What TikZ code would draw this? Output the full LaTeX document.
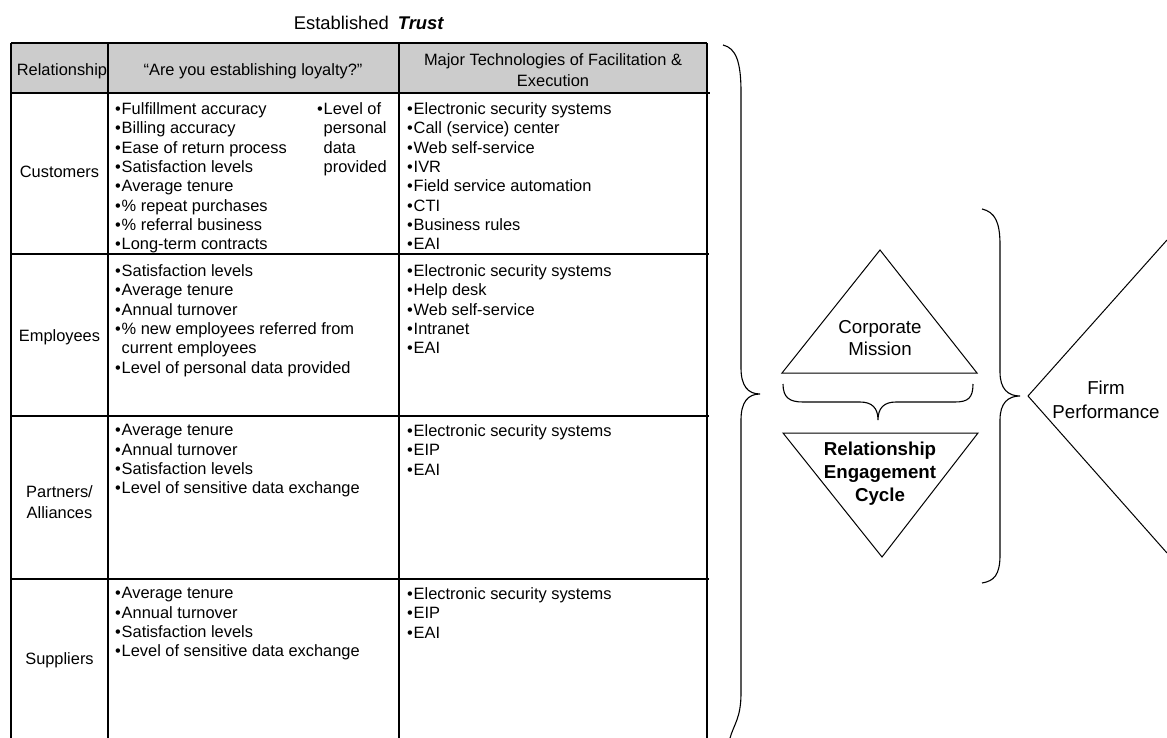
\documentclass[tikz,border=0pt]{standalone}
\usepackage{fontspec}
\setmainfont{Liberation Sans}
\definecolor{headgray}{RGB}{204,204,204}
\tikzset{
  cell/.style={anchor=north west, inner sep=0pt, align=left, font=\fontsize{16.4}{19.3}\selectfont},
  rowlabel/.style={inner sep=0pt, align=center, font=\fontsize{16.4}{20.5}\selectfont},
  headtext/.style={inner sep=0pt, align=center, font=\fontsize{16.4}{21}\selectfont},
  bigtext/.style={inner sep=0pt, align=center, font=\fontsize{18.7}{22}\selectfont},
  grid/.style={line width=1.3pt, black},
  bracestyle/.style={line width=1.1pt, black},
  tri/.style={line width=1pt, black},
}
\newcommand{\bul}{•\kern0.8pt}
\newcommand{\ind}{\hphantom{•\kern0.8pt}}
\begin{document}
\begin{tikzpicture}[x=1pt,y=-1pt]
\useasboundingbox (0,0) rectangle (1167,738);
% title
\node[inner sep=0pt, font=\fontsize{18.4}{22}\selectfont] (title) at (369,23) {Established\hspace{9pt}\textbf{\itshape Trust}};
% header fill
\fill[headgray] (11,43) rectangle (707,93);
% table grid
\draw[grid] (11,43) -- (707,43);
\draw[grid] (11,93) -- (710,93);
\draw[grid] (11,254) -- (709,254);
\draw[grid] (11,416) -- (709,416);
\draw[grid] (11,579) -- (709,579);
\draw[grid] (11,43) -- (11,738);
\draw[grid] (108,43) -- (108,738);
\draw[grid] (399,43) -- (399,738);
\draw[grid] (707,43) -- (707,738);
% header texts
\node[headtext] (h1) at (62,71) {Relationship};
\node[headtext] (h2) at (253,71) {“Are you establishing loyalty?”};
\node[headtext] (h3) at (553,70) {Major Technologies of Facilitation \&\\Execution};
% row labels
\node[rowlabel] (r1) at (59.5,172) {Customers};
\node[rowlabel] (r2) at (59.5,337) {Employees};
\node[rowlabel] (r3) at (59.5,502) {Partners/\\Alliances};
\node[rowlabel] (r4) at (59.5,660) {Suppliers};
% customers
\node[cell] (c1a) at (115,102.5) {\bul Fulfillment accuracy\\\bul Billing accuracy\\\bul Ease of return process\\\bul Satisfaction levels\\\bul Average tenure\\\bul \% repeat purchases\\\bul \% referral business\\\bul Long-term contracts};
\node[cell] (c1b) at (317,102.5) {\bul Level of\\\ind personal\\\ind data\\\ind provided};
\node[cell] (c1c) at (407,102.5) {\bul Electronic security systems\\\bul Call (service) center\\\bul Web self-service\\\bul IVR\\\bul Field service automation\\\bul CTI\\\bul Business rules\\\bul EAI};
% employees
\node[cell] (c2a) at (115,264.5) {\bul Satisfaction levels\\\bul Average tenure\\\bul Annual turnover\\\bul \% new employees referred from\\\ind current employees\\\bul Level of personal data provided};
\node[cell] (c2c) at (407,264.5) {\bul Electronic security systems\\\bul Help desk\\\bul Web self-service\\\bul Intranet\\\bul EAI};
% partners
\node[cell] (c3a) at (115,424.5) {\bul Average tenure\\\bul Annual turnover\\\bul Satisfaction levels\\\bul Level of sensitive data exchange};
\node[cell] (c3c) at (407,424.5) {\bul Electronic security systems\\\bul EIP\\\bul EAI};
% suppliers
\node[cell] (c4a) at (115,587.5) {\bul Average tenure\\\bul Annual turnover\\\bul Satisfaction levels\\\bul Level of sensitive data exchange};
\node[cell] (c4c) at (407,587.5) {\bul Electronic security systems\\\bul EIP\\\bul EAI};
% big brace
\draw[bracestyle] (723,45) .. controls (736,48) and (741,62) .. (741,92) -- (741,368)
  .. controls (741,386) and (748,394) .. (760,394)
  .. controls (748,394) and (741,402) .. (741,420) -- (741,693)
  .. controls (741,718) and (734,724) .. (730,738);
% triangles
\draw[tri] (880,250) -- (977,373) -- (782,373) -- cycle;
\node[bigtext] (mission) at (880,338) {Corporate\\Mission};
\draw[bracestyle] (783,384) .. controls (783,398) and (790,402) .. (803,402) -- (860,402)
  .. controls (872,402) and (878,408) .. (878,420)
  .. controls (878,408) and (884,402) .. (896,402) -- (955,402)
  .. controls (968,402) and (973,398) .. (973,384);
\draw[tri] (783,433) -- (978,433) -- (882,557) -- cycle;
\node[bigtext, font=\fontsize{18.7}{23}\selectfont\bfseries] (cycle) at (880,474) {Relationship\\Engagement\\Cycle};
% second brace
\draw[bracestyle] (982,209) .. controls (995,212) and (1000,222) .. (1000,245) -- (1000,372)
  .. controls (1000,389) and (1008,396) .. (1020,396)
  .. controls (1008,396) and (1000,403) .. (1000,420) -- (1000,555)
  .. controls (1000,575) and (994,581) .. (982,583);
% firm performance
\draw[tri] (1167,240) -- (1028,396) -- (1167,553);
\node[bigtext, font=\fontsize{18.7}{24}\selectfont] (firm) at (1106,400) {Firm\\Performance};
\end{tikzpicture}
\end{document}
